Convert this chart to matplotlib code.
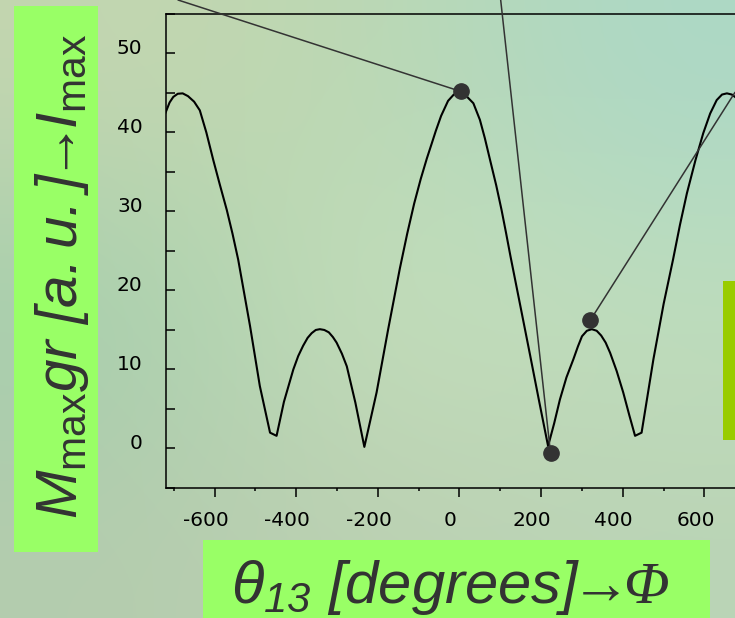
import matplotlib
matplotlib.use('Agg')
import matplotlib.pyplot as plt
import matplotlib.transforms as mtransforms
from matplotlib.patches import Rectangle
from matplotlib.ticker import MultipleLocator
import numpy as np

# ---------------------------------------------------------------- #
# Data
theta = [-720, -710, -701, -690, -678, -665, -650, -636, -620, -603, -587, -570, -556,
         -542, -513, -489, -464, -448,
         -430, -407, -395, -383, -372, -362, -352, -342, -331, -320, -310, -301,
         -288, -276, -255, -233,
         -203, -175, -146, -128, -111, -95, -80, -68, -58, -45, -28, -14, 1,
         17, 34, 50, 62, 75, 90, 103, 114, 125, 150, 173, 195, 217,
         232, 246, 262, 279, 290, 300, 312, 324, 336, 347, 358, 369, 385, 401,
         416, 430, 446,
         475, 500, 523, 540, 557, 578, 597, 614, 630, 643, 655, 667, 680, 700, 720]
m_gr = [42.5, 43.8, 44.5, 44.9, 44.95, 44.6, 43.9, 42.8, 40.0, 36.5, 33.4, 30.2, 27.2,
        23.9, 15.5, 7.9, 2.0, 1.6,
        5.9, 10.0, 11.7, 13.0, 14.0, 14.6, 15.0, 15.1, 15.0, 14.7, 14.1, 13.4,
        12.0, 10.4, 5.8, 0.2,
        7.1, 15.0, 22.8, 27.2, 31.0, 34.1, 36.7, 38.6, 40.2, 42.1, 44.0, 44.8, 45.0,
        44.6, 43.7, 41.6, 39.3, 36.5, 33.3, 30.2, 27.3, 24.3, 17.8, 11.8, 6.0, 0.3,
        3.2, 6.2, 9.0, 11.3, 12.9, 14.2, 14.9, 15.1, 14.9, 14.3, 13.4, 12.1, 9.8, 7.1,
        4.2, 1.6, 2.0,
        11.3, 18.3, 23.9, 28.3, 32.3, 36.5, 39.9, 42.4, 44.1, 44.8, 44.95, 44.8, 44.3,
        43.2, 41.5]

# marked points
dot_theta = [3, 223, 320]
dot_m = [45.2, -0.6, 16.2]

x_ticks = [-600, -400, -200, 0, 200, 400, 600]
y_ticks = [0, 10, 20, 30, 40, 50]

# ---------------------------------------------------------------- #
plt.rcParams['mathtext.fontset'] = 'custom'
plt.rcParams['mathtext.it'] = 'Liberation Sans:italic'
plt.rcParams['mathtext.rm'] = 'Liberation Sans:italic'
plt.rcParams['mathtext.sf'] = 'Liberation Sans'
plt.rcParams['mathtext.bf'] = 'Liberation Serif:italic'
plt.rcParams['axes.unicode_minus'] = False

fig = plt.figure(figsize=(7.35, 6.18), dpi=100)

# pale green slide background
bg = np.array([
    [[196, 214, 176], [188, 216, 178], [172, 216, 198]],
    [[162, 206, 172], [200, 224, 188], [192, 222, 188]],
    [[180, 204, 174], [188, 208, 178], [186, 212, 182]],
]) / 255.0
bg_ax = fig.add_axes([0, 0, 1, 1], zorder=-10)
bg_ax.imshow(bg, interpolation='bicubic', aspect='auto', extent=[0, 1, 0, 1])
bg_ax.axis('off')

ax = fig.add_axes([0.2252, 0.2104, 0.7999, 0.7670])
ax.patch.set_alpha(0)

ax.plot(theta, m_gr, color='black', lw=1.5)
ax.plot(dot_theta, dot_m, 'o', color='#333333', ms=11, zorder=5, clip_on=False)

# callout lines running off the slide
ends = [(0.2422, 1.0), (0.6812, 1.0), (1.0, 0.8506)]
for xd, yd, end in zip(dot_theta, dot_m, ends):
    ax.annotate('', xy=(xd, yd), xycoords='data', xytext=end,
                textcoords='figure fraction',
                arrowprops=dict(arrowstyle='-', color='#333333', lw=1.1,
                                shrinkA=0, shrinkB=0))

ax.set_xlim(-720, 720)
ax.set_ylim(-5, 55)
ax.set_xticks(x_ticks)
ax.set_yticks(y_ticks)
ax.xaxis.set_minor_locator(MultipleLocator(100))
ax.yaxis.set_minor_locator(MultipleLocator(5))
ax.spines['right'].set_visible(False)
for s in ['left', 'bottom', 'top']:
    ax.spines[s].set_linewidth(1.1)
ax.tick_params(axis='x', which='major', direction='out', length=6.5, width=1.1,
               labelsize=14.5, pad=10)
ax.tick_params(axis='x', which='minor', direction='out', length=2.5, width=1.1)
ax.tick_params(axis='y', which='both', direction='in', length=6.5, width=1.1,
               labelsize=14.5, pad=16.5)

for lbl in ax.get_xticklabels():
    lbl.set_transform(lbl.get_transform() +
                      mtransforms.ScaledTranslation(-0.09, 0, fig.dpi_scale_trans))
for lbl in ax.get_yticklabels():
    lbl.set_transform(lbl.get_transform() +
                      mtransforms.ScaledTranslation(0, 0.065, fig.dpi_scale_trans))

# green label boxes
fig.patches.append(Rectangle((0.019, 0.1068), 0.1139, 0.8828, transform=fig.transFigure,
                             facecolor='#99ff66', edgecolor='none', zorder=1))
fig.patches.append(Rectangle((0.2762, 0.0), 0.6898, 0.1262, transform=fig.transFigure,
                             facecolor='#99ff66', edgecolor='none', zorder=1))
fig.patches.append(Rectangle((0.9837, 0.288), 0.05, 0.257, transform=fig.transFigure,
                             facecolor='#99cc00', edgecolor='none', zorder=1))

fig.text(0.084, 0.552,
         r'$M_{\mathsf{max}}gr\ [a.u.]\!\!\rightarrow\!\!I_{\mathsf{max}}$',
         rotation=90, ha='center', va='center', fontsize=42, color='#333333', zorder=3)
fig.text(0.6129, 0.0235, r'$\theta_{13}\ [degrees]\!\!\rightarrow\!\!\mathbf{\Phi}$',
         ha='center', va='baseline', fontsize=43, color='#333333', zorder=3)

plt.savefig('out.png', dpi=100)
